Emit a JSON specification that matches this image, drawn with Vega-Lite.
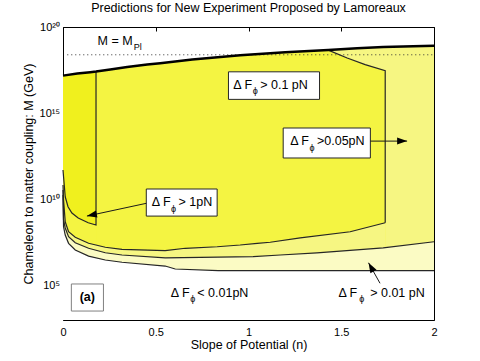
{
  "$schema": "https://vega.github.io/schema/vega-lite/v6.json",
  "width": 371,
  "height": 293,
  "autosize": {"type": "none"},
  "padding": {"left": 63, "top": 27, "right": 46, "bottom": 41},
  "background": "white",
  "title": {"text": "Predictions for New Experiment Proposed by Lamoreaux", "fontSize": 12.5, "fontWeight": "normal", "font": "Liberation Sans", "color": "black", "offset": 7, "anchor": "middle"},
  "config": {
    "view": {"stroke": "black", "strokeWidth": 1},
    "font": "Liberation Sans",
    "axis": {"labelFont": "Liberation Sans", "titleFont": "Liberation Sans", "labelColor": "black", "titleColor": "black", "tickColor": "black", "domain": false, "grid": false, "labelFontSize": 11, "titleFontSize": 12.5, "titleFontWeight": "normal", "tickSize": -4, "labelFlush": false}
  },
  "datasets": {
    "top": [{"n":0,"M":1.51e17},{"n":0.077,"M":2.0e17},{"n":0.147,"M":2.4e17},{"n":0.178,"M":2.63e17},{"n":0.255,"M":3.47e17},{"n":0.346,"M":4.79e17},{"n":0.454,"M":6.61e17},{"n":0.524,"M":7.94e17},{"n":0.697,"M":1.32e18},{"n":0.955,"M":2.29e18},{"n":1.198,"M":3.47e18},{"n":1.43,"M":4.57e18},{"n":1.586,"M":5.89e18},{"n":1.726,"M":6.92e18},{"n":1.888,"M":7.76e18},{"n":2,"M":8.13e18}],
    "p1top": [{"n":0,"M":1.51e17},{"n":0.077,"M":2.0e17},{"n":0.147,"M":2.4e17},{"n":0.178,"M":2.63e17},{"n":0.255,"M":3.47e17},{"n":0.346,"M":4.79e17},{"n":0.454,"M":6.61e17},{"n":0.524,"M":7.94e17},{"n":0.697,"M":1.32e18},{"n":0.955,"M":2.29e18},{"n":1.198,"M":3.47e18},{"n":1.43,"M":4.57e18},{"n":1.532,"M":1.58e18},{"n":1.629,"M":6.61e17},{"n":1.737,"M":2.88e17}],
    "thin": [{"i":0,"n":1.43,"M":4.57e18},{"i":1,"n":1.532,"M":1.58e18},{"i":2,"n":1.629,"M":6.61e17},{"i":3,"n":1.737,"M":2.88e17},{"i":4,"n":1.737,"M":4.37e8}],
    "p1bot": [{"n":0,"M":6.76e10},{"n":0.003,"M":9.12e9},{"n":0.012,"M":5.01e8},{"n":0.03,"M":1.32e8},{"n":0.066,"M":6.31e7},{"n":0.138,"M":2.82e7},{"n":0.228,"M":1.66e7},{"n":0.318,"M":1.26e7},{"n":0.551,"M":1.05e7},{"n":0.659,"M":1.45e7},{"n":0.831,"M":1.78e7},{"n":0.955,"M":2.24e7},{"n":1.047,"M":2.82e7},{"n":1.117,"M":3.24e7},{"n":1.279,"M":5.75e7},{"n":1.548,"M":1.32e8},{"n":1.737,"M":4.37e8}],
    "c05": [{"n":0,"M":3.47e10},{"n":0.003,"M":6.31e8},{"n":0.012,"M":2.19e8},{"n":0.03,"M":6.76e7},{"n":0.066,"M":3.02e7},{"n":0.138,"M":1.45e7},{"n":0.228,"M":7.94e6},{"n":0.318,"M":5.89e6},{"n":0.551,"M":4.07e6},{"n":1.025,"M":4.79e6},{"n":1.171,"M":5.89e6},{"n":1.369,"M":7.94e6},{"n":1.726,"M":1.55e7},{"n":2,"M":3.47e7}],
    "c001": [{"n":0,"M":1.78e10},{"n":0.003,"M":2.57e8},{"n":0.012,"M":8.51e7},{"n":0.03,"M":2.82e7},{"n":0.066,"M":1.15e7},{"n":0.138,"M":5.13e6},{"n":0.228,"M":3.02e6},{"n":0.318,"M":2.24e6},{"n":0.551,"M":1.35e6},{"n":0.605,"M":9.12e5},{"n":0.837,"M":7.24e5},{"n":2,"M":7.24e5}],
    "o1pN": [{"i":0,"n":0.178,"M":2.63e17},{"i":1,"n":0.178,"M":3.24e8},{"i":2,"n":0.136,"M":4.37e8},{"i":3,"n":0.082,"M":8.32e8},{"i":4,"n":0.048,"M":1.62e9},{"i":5,"n":0.027,"M":3.72e9},{"i":6,"n":0.012,"M":1.41e10},{"i":7,"n":0.003,"M":2.04e11},{"i":8,"n":0,"M":5.01e11}],
    "boxes": [{"box":"0.1","n1":0.892,"n2":1.383,"M1":6.31e15,"M2":2.51e17},{"box":"0.05","n1":1.187,"n2":1.657,"M1":2.51e12,"M2":1.38e14},{"box":"1","n1":0.449,"n2":0.831,"M1":1.07e9,"M2":3.98e10}],
    "abox": [{"n1":0.045,"n2":0.218,"M1":3.31e3,"M2":1.23e5,"t":"(a)","n":0.131,"M":2.05e4}],
    "texts": [{"t":"M = M","n":0.186,"M":8.9e18},{"t":"Δ F","n":0.918,"M":2.4e16},{"t":"> 0.1 pN","n":1.063,"M":2.4e16},{"t":"Δ F","n":1.225,"M":1.41e13},{"t":">0.05pN","n":1.369,"M":1.41e13},{"t":"Δ F","n":0.479,"M":4.07e9},{"t":"> 1pN","n":0.623,"M":4.07e9},{"t":"Δ F","n":1.485,"M":2.24e4},{"t":"> 0.01 pN","n":1.656,"M":2.24e4},{"t":"Δ F","n":0.581,"M":2.24e4},{"t":"< 0.01pN","n":0.724,"M":2.24e4}],
    "subs": [{"t":"Pl","n":0.403,"M":4.6e18},{"t":"ϕ","n":1.036,"M":1.29e16},{"t":"ϕ","n":1.343,"M":6.31e12},{"t":"ϕ","n":0.596,"M":1.91e9},{"t":"ϕ","n":1.61,"M":1.15e4},{"t":"ϕ","n":0.7,"M":1.15e4}],
    "arrows": [{"a":"05","n1":1.657,"M1":2.4e13,"n2":1.855,"M2":2.4e13},{"a":"1","n1":0.449,"M1":5.89e9,"n2":0.129,"M2":1.07e9},{"a":"001","n1":1.709,"M1":1.35e5,"n2":1.647,"M2":2.09e6}]
  },
  "layer": [
    {"data":{"name":"top"},"mark":{"type":"area","color":"#f6f682"},
     "encoding":{
       "x":{"field":"n","type":"quantitative","scale":{"domain":[0,2],"nice":false,"zero":false},"axis":{"orient":"bottom","values":[0,0.5,1,1.5,2],"format":"~g","title":"Slope of Potential (n)","labelPadding":10,"titlePadding":1}},
       "y":{"field":"M","type":"quantitative","scale":{"type":"log","domain":[1000,1e20],"nice":false},"axis":{"orient":"left","values":[1e5,1e10,1e15,1e20],"labelExpr":"datum.value >= 1e19 ? '10²⁰' : datum.value >= 1e14 ? '10¹⁵' : datum.value >= 1e9 ? '10¹⁰' : '10⁵'","title":"Chameleon to matter coupling: M (GeV)","labelPadding":7.5,"titlePadding":4}},
       "y2":{"datum":1000}}},
    {"data":{"name":"p1top"},"mark":{"type":"area","color":"#f4f442"},
     "encoding":{"x":{"field":"n","type":"quantitative","axis":null},"y":{"field":"M","type":"quantitative","scale":{"type":"log"},"axis":null},"y2":{"datum":1000}}},
    {"data":{"name":"top"},"transform":[{"filter":"datum.n <= 0.178"}],"mark":{"type":"area","color":"#f0f01e"},
     "encoding":{"x":{"field":"n","type":"quantitative","axis":null},"y":{"field":"M","type":"quantitative","scale":{"type":"log"},"axis":null},"y2":{"datum":1000}}},
    {"data":{"name":"o1pN"},"transform":[{"filter":"datum.i >= 1"}],"mark":{"type":"area","color":"#f4f442"},
     "encoding":{"x":{"field":"n","type":"quantitative","axis":null},"y":{"field":"M","type":"quantitative","scale":{"type":"log"},"axis":null},"y2":{"datum":1000}}},
    {"data":{"name":"p1bot"},"mark":{"type":"area","color":"#f6f682"},
     "encoding":{"x":{"field":"n","type":"quantitative","axis":null},"y":{"field":"M","type":"quantitative","scale":{"type":"log"},"axis":null},"y2":{"datum":1000}}},
    {"data":{"name":"c05"},"mark":{"type":"area","color":"#fbfbc4"},
     "encoding":{"x":{"field":"n","type":"quantitative","axis":null},"y":{"field":"M","type":"quantitative","scale":{"type":"log"},"axis":null},"y2":{"datum":1000}}},
    {"data":{"name":"c001"},"mark":{"type":"area","color":"white"},
     "encoding":{"x":{"field":"n","type":"quantitative","axis":null},"y":{"field":"M","type":"quantitative","scale":{"type":"log"},"axis":null},"y2":{"datum":1000}}},
    {"data":{"name":"c001"},"mark":{"type":"line","color":"#262626","strokeWidth":1.2},
     "encoding":{"x":{"field":"n","type":"quantitative","axis":null},"y":{"field":"M","type":"quantitative","scale":{"type":"log"},"axis":null}}},
    {"data":{"name":"c05"},"mark":{"type":"line","color":"#262626","strokeWidth":1.2},
     "encoding":{"x":{"field":"n","type":"quantitative","axis":null},"y":{"field":"M","type":"quantitative","scale":{"type":"log"},"axis":null}}},
    {"data":{"name":"p1bot"},"mark":{"type":"line","color":"#262626","strokeWidth":1.2},
     "encoding":{"x":{"field":"n","type":"quantitative","axis":null},"y":{"field":"M","type":"quantitative","scale":{"type":"log"},"axis":null}}},
    {"data":{"name":"thin"},"mark":{"type":"line","color":"#262626","strokeWidth":1.2},
     "encoding":{"x":{"field":"n","type":"quantitative","axis":null},"y":{"field":"M","type":"quantitative","scale":{"type":"log"},"axis":null},"order":{"field":"i","type":"quantitative"}}},
    {"data":{"name":"o1pN"},"mark":{"type":"line","color":"#262626","strokeWidth":1.2},
     "encoding":{"x":{"field":"n","type":"quantitative","axis":null},"y":{"field":"M","type":"quantitative","scale":{"type":"log"},"axis":null},"order":{"field":"i","type":"quantitative"}}},
    {"data":{"values":[{}]},"mark":{"type":"rule","color":"#333333","strokeDash":[1,3],"strokeWidth":1},
     "encoding":{"x":{"datum":0.023,"type":"quantitative","axis":null},"x2":{"datum":2},"y":{"datum":2.44e18,"type":"quantitative","scale":{"type":"log"},"axis":null}}},
    {"data":{"name":"top"},"mark":{"type":"line","color":"black","strokeWidth":2.5},
     "encoding":{
       "x":{"field":"n","type":"quantitative","axis":{"orient":"top","values":[0,0.5,1,1.5,2],"labels":false,"title":null}},
       "y":{"field":"M","type":"quantitative","scale":{"type":"log"},"axis":{"orient":"right","values":[1e5,1e10,1e15,1e20],"labels":false,"title":null}}}},
    {"data":{"name":"boxes"},"mark":{"type":"rect","fill":"white","stroke":"#262626","strokeWidth":1},
     "encoding":{"x":{"field":"n1","type":"quantitative","axis":null},"x2":{"field":"n2"},"y":{"field":"M1","type":"quantitative","scale":{"type":"log"},"axis":null},"y2":{"field":"M2"}}},
    {"data":{"name":"abox"},"mark":{"type":"rect","fill":"white","stroke":"#808080","strokeWidth":1},
     "encoding":{"x":{"field":"n1","type":"quantitative","axis":null},"x2":{"field":"n2"},"y":{"field":"M1","type":"quantitative","scale":{"type":"log"},"axis":null},"y2":{"field":"M2"}}},
    {"data":{"name":"abox"},"mark":{"type":"text","align":"center","baseline":"middle","fontSize":12.5,"fontWeight":"bold","color":"black"},
     "encoding":{"x":{"field":"n","type":"quantitative","axis":null},"y":{"field":"M","type":"quantitative","scale":{"type":"log"},"axis":null},"text":{"field":"t"}}},
    {"data":{"name":"texts"},"mark":{"type":"text","align":"left","baseline":"alphabetic","fontSize":12.5,"color":"black"},
     "encoding":{"x":{"field":"n","type":"quantitative","axis":null},"y":{"field":"M","type":"quantitative","scale":{"type":"log"},"axis":null},"text":{"field":"t"}}},
    {"data":{"name":"subs"},"mark":{"type":"text","align":"center","baseline":"alphabetic","fontSize":9,"color":"black"},
     "encoding":{"x":{"field":"n","type":"quantitative","axis":null},"y":{"field":"M","type":"quantitative","scale":{"type":"log"},"axis":null},"text":{"field":"t"}}},
    {"data":{"name":"arrows"},"mark":{"type":"rule","color":"#1a1a1a","strokeWidth":1},
     "encoding":{"x":{"field":"n1","type":"quantitative","axis":null},"x2":{"field":"n2"},"y":{"field":"M1","type":"quantitative","scale":{"type":"log"},"axis":null},"y2":{"field":"M2"}}},
    {"data":{"name":"arrows"},"transform":[{"filter":"datum.a == '05'"}],"mark":{"type":"point","shape":"M 0 0 L -1 -0.35 L -1 0.35 Z","filled":true,"color":"black","size":400,"angle":0,"opacity":1},
     "encoding":{"x":{"field":"n2","type":"quantitative","axis":null},"y":{"field":"M2","type":"quantitative","scale":{"type":"log"},"axis":null}}},
    {"data":{"name":"arrows"},"transform":[{"filter":"datum.a == '1'"}],"mark":{"type":"point","shape":"M 0 0 L -1 -0.35 L -1 0.35 Z","filled":true,"color":"black","size":400,"angle":167.9,"opacity":1},
     "encoding":{"x":{"field":"n2","type":"quantitative","axis":null},"y":{"field":"M2","type":"quantitative","scale":{"type":"log"},"axis":null}}},
    {"data":{"name":"arrows"},"transform":[{"filter":"datum.a == '001'"}],"mark":{"type":"point","shape":"M 0 0 L -1 -0.35 L -1 0.35 Z","filled":true,"color":"black","size":400,"angle":240.4,"opacity":1},
     "encoding":{"x":{"field":"n2","type":"quantitative","axis":null},"y":{"field":"M2","type":"quantitative","scale":{"type":"log"},"axis":null}}}
  ]
}
